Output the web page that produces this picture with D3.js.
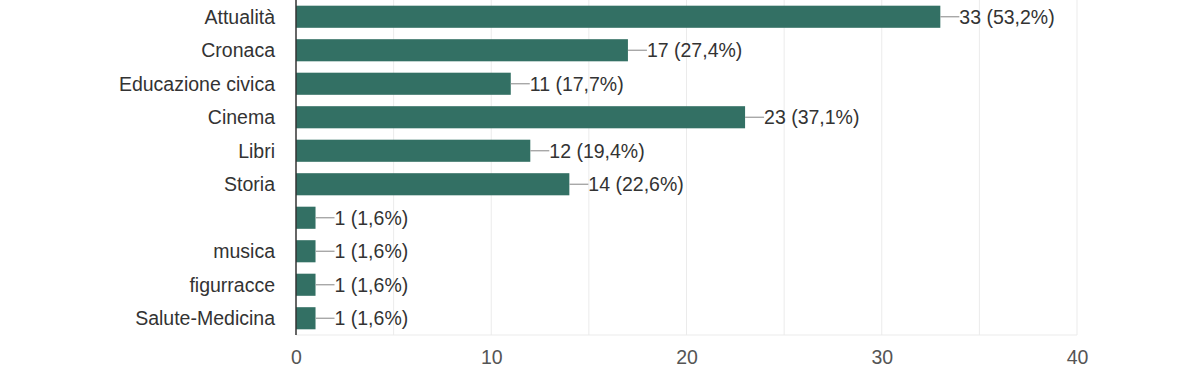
<!DOCTYPE html>
<html lang="it">
<head>
    <meta charset="utf-8">
    <title>Risposte</title>
    <script src="https://d3js.org/d3.v7.min.js"></script>
    <style>
        body { margin: 0; background: #fff; }
        text { font-family: "Liberation Sans", Arial, sans-serif; }
    </style>
</head>
<body>
    <svg id="chart" width="1190" height="392"></svg>
    <script>
        var categories = ["Attualità", "Cronaca", "Educazione civica", "Cinema", "Libri", "Storia", "", "musica", "figurracce", "Salute-Medicina"];
        var counts = [33, 17, 11, 23, 12, 14, 1, 1, 1, 1];
        var percents = ["53,2%", "27,4%", "17,7%", "37,1%", "19,4%", "22,6%", "1,6%", "1,6%", "1,6%", "1,6%"];
        var xTicks = [0, 10, 20, 30, 40];
        var gridTicks = [5, 10, 15, 20, 25, 30, 35, 40];

        var svg = d3.select("#chart");
        var plotLeft = 296, plotRight = 1077, plotTop = 0, plotBottom = 335;
        var fs = "19.5px";

        var x = d3.scaleLinear().domain([0, 40]).range([plotLeft, plotRight]);
        var y = d3.scaleBand().domain(d3.range(categories.length)).range([plotTop, plotBottom]).paddingInner(0.34).paddingOuter(0.17);

        // grid
        svg.append("g").selectAll("line")
            .data(gridTicks)
            .enter().append("line")
            .attr("x1", function (d) { return x(d); })
            .attr("x2", function (d) { return x(d); })
            .attr("y1", plotTop)
            .attr("y2", plotBottom)
            .attr("stroke", "#ebebeb")
            .attr("stroke-width", 1);
        svg.append("line")
            .attr("x1", plotLeft).attr("x2", plotRight)
            .attr("y1", plotBottom).attr("y2", plotBottom)
            .attr("stroke", "#ebebeb");

        // bars
        svg.append("g").selectAll("rect")
            .data(counts)
            .enter().append("rect")
            .attr("x", x(0))
            .attr("y", function (d, i) { return y(i); })
            .attr("width", function (d) { return x(d) - x(0); })
            .attr("height", y.bandwidth())
            .attr("fill", "#337064");

        // zero line
        svg.append("line")
            .attr("x1", x(0)).attr("x2", x(0))
            .attr("y1", plotTop).attr("y2", plotBottom)
            .attr("stroke", "#333").attr("stroke-width", 1.5);

        // value labels with leader lines
        var lab = svg.append("g").selectAll("g")
            .data(counts)
            .enter().append("g");
        lab.append("line")
            .attr("x1", function (d) { return x(d); })
            .attr("x2", function (d) { return x(d) + 19; })
            .attr("y1", function (d, i) { return y(i) + y.bandwidth() / 2; })
            .attr("y2", function (d, i) { return y(i) + y.bandwidth() / 2; })
            .attr("stroke", "#999").attr("stroke-width", 1.2);
        lab.append("text")
            .attr("x", function (d) { return x(d) + 19; })
            .attr("y", function (d, i) { return y(i) + y.bandwidth() / 2; })
            .attr("dy", "0.36em")
            .attr("font-size", fs)
            .attr("fill", "#333")
            .text(function (d, i) { return d + " (" + percents[i] + ")"; });

        // category labels
        svg.append("g").selectAll("text")
            .data(categories)
            .enter().append("text")
            .attr("x", 275)
            .attr("y", function (d, i) { return y(i) + y.bandwidth() / 2; })
            .attr("dy", "0.36em")
            .attr("text-anchor", "end")
            .attr("font-size", fs)
            .attr("fill", "#333")
            .text(function (d) { return d; });

        // x axis labels
        svg.append("g")
            .attr("transform", "translate(0," + plotBottom + ")")
            .call(d3.axisBottom(x).tickValues(xTicks).tickSize(0).tickPadding(15))
            .call(function (g) { g.select(".domain").remove(); })
            .selectAll("text")
            .attr("font-size", fs)
            .attr("fill", "#555")
            .style("font-family", "'Liberation Sans', Arial, sans-serif");
    </script>
</body>
</html>
